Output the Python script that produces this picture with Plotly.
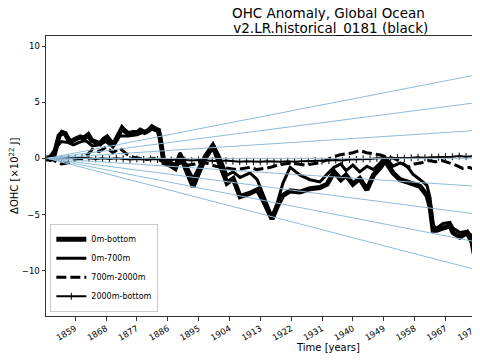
import plotly.graph_objects as go

# ---------------- data ----------------
yrs_total = [1850.8, 1851.7, 1852.8, 1853.5, 1854.3, 1855.2, 1856.1, 1857.0, 1857.8, 1859.0,
             1860.5, 1861.5, 1862.8, 1863.8, 1865.0, 1866.3, 1867.3, 1868.3, 1869.3, 1870.3,
             1871.3, 1872.7, 1873.6, 1874.5, 1875.8, 1877.1, 1878.0, 1879.3, 1880.5, 1881.4,
             1882.5, 1883.3, 1883.8, 1884.4, 1884.9, 1886.7, 1888.2, 1889.6, 1891.4, 1893.4,
             1895.4, 1896.9, 1899.2, 1901.3, 1903.3, 1905.1, 1907.1, 1910.0, 1912.1, 1913.8,
             1915.9, 1916.4, 1917.9, 1919.6, 1921.7, 1924.6, 1927.5, 1930.4, 1932.5, 1934.5,
             1936.5, 1938.0, 1940.0, 1942.0, 1944.1, 1946.0, 1948.0, 1949.4, 1951.7, 1953.8,
             1955.8, 1957.5, 1959.6, 1961.6, 1962.5, 1963.4, 1964.5, 1966.3, 1968.3, 1969.2,
             1971.2, 1973.3, 1974.7, 1975.6, 1977.1]
ohc_0_bottom = [0.0, -0.1, 0.2, 1.0, 2.0, 2.3, 2.2, 1.7, 1.5, 1.7,
                1.9, 1.8, 2.1, 1.6, 1.4, 1.3, 1.7, 1.9, 1.5, 1.3,
                1.9, 2.7, 2.4, 2.2, 2.3, 2.3, 2.5, 2.3, 2.5, 2.8,
                2.6, 2.5, 1.8, 0.2, -0.4, -0.6, -0.9, 0.3, -1.0, -2.5,
                -1.0, 0.0, 1.1, -0.5, -2.2, -1.8, -3.4, -3.1, -2.8, -3.7,
                -5.2, -5.4, -4.3, -3.3, -2.9, -3.0, -2.7, -2.6, -2.3, -1.2,
                -1.9, -1.5, -2.3, -1.8, -2.8, -1.5, -0.8, -0.2, -1.3, -1.9,
                -2.1, -2.3, -2.5, -3.3, -4.3, -6.4, -6.4, -6.2, -6.0, -6.6,
                -7.0, -6.6, -7.4, -8.8, -8.2]

yrs_700 = [1850.8, 1852.0, 1853.5, 1855.0, 1857.0, 1858.5, 1860.0, 1862.0, 1864.0, 1866.0,
           1868.0, 1870.0, 1872.0, 1874.5, 1877.0, 1879.0, 1881.4, 1883.0, 1884.0, 1884.7,
           1886.7, 1888.2, 1889.6, 1891.4, 1893.4, 1895.4, 1896.9, 1899.2, 1901.3, 1903.3,
           1905.1, 1907.1, 1910.0, 1912.1, 1913.8, 1915.9, 1916.4, 1917.9, 1919.6, 1921.7,
           1924.6, 1927.5, 1930.4, 1932.5, 1934.5, 1936.5, 1938.0, 1940.0, 1942.0, 1944.1,
           1946.0, 1948.0, 1949.4, 1951.7, 1953.8, 1955.8, 1957.5, 1959.6, 1961.6, 1962.5,
           1963.4, 1964.5, 1966.3, 1968.3, 1969.2, 1971.2, 1973.3, 1974.7, 1975.6, 1977.1]
ohc_0_700 = [0.0, 0.3, 1.0, 1.5, 1.4, 1.2, 1.4, 1.6, 1.1, 1.2,
             1.5, 1.0, 2.0, 2.0, 2.1, 2.3, 2.6, 2.4, 1.5, -0.2,
             -0.3, -0.6, 0.5, -0.6, -1.8, -0.6, 0.3, 1.3, 0.0, -1.5,
             -1.2, -1.7, -1.3, -1.9, -3.2, -4.8, -5.2, -4.0, -2.2, -0.8,
             -1.5, -1.9, -2.1, -1.4, -0.8, -0.5, -1.1, -0.6, -1.2, -0.7,
             -1.0, -0.4, 0.1, -0.7, -0.4, -0.7, -1.4, -1.9, -2.4, -3.5,
             -6.0, -6.2, -5.8, -5.7, -6.2, -6.6, -6.5, -6.9, -8.2, -7.6]

yrs_mid = [1850.8, 1853, 1855, 1857, 1859, 1861, 1862.5, 1864, 1866, 1868,
           1870, 1872, 1874, 1876, 1878, 1880, 1882, 1884, 1886, 1888,
           1890, 1892, 1894, 1896, 1898, 1900, 1902, 1904, 1906, 1908,
           1910, 1912, 1914, 1916, 1918, 1920, 1922, 1924, 1926, 1928,
           1930, 1932, 1934, 1936, 1938, 1940, 1942, 1944, 1946, 1948,
           1950, 1952, 1954, 1956, 1958, 1960, 1962, 1964, 1966, 1968,
           1970, 1972, 1974, 1976, 1977]
ohc_700_2000 = [0.0, -0.2, -0.5, -0.4, -0.1, 0.0, 0.3, 0.8, 0.6, 1.0,
                0.5, 0.9, 0.4, 0.1, 0.0, -0.1, 0.0, -0.2, -0.5, -0.6,
                -0.4, -0.6, -0.5, -0.3, -0.5, -0.7, -0.8, -0.9, -1.0, -0.9,
                -0.8, -1.0, -0.9, -0.8, -0.6, -0.5, -0.4, -0.5, -0.6, -0.5,
                -0.4, -0.2, 0.1, 0.3, 0.4, 0.5, 0.7, 0.5, 0.4, 0.3,
                0.1, 0.0, -0.3, -0.8, -0.5, -0.4, -0.2, -0.3, -0.2, -0.4,
                -0.6, -0.9, -0.8, -1.1, -1.0]

yrs_deep = [1850.8, 1853, 1855, 1857, 1859, 1861, 1863, 1865, 1867, 1869,
            1871, 1873, 1875, 1877, 1879, 1881, 1883, 1885, 1887, 1889,
            1891, 1893, 1895, 1897, 1899, 1901, 1903, 1905, 1907, 1909,
            1911, 1913, 1915, 1917, 1919, 1921, 1923, 1925, 1927, 1929,
            1931, 1933, 1935, 1937, 1939, 1941, 1943, 1945, 1947, 1949,
            1951, 1953, 1955, 1957, 1959, 1961, 1963, 1965, 1967, 1969,
            1971, 1973, 1975, 1977]
ohc_2000_bottom = [0.0, -0.05, 0.0, 0.05, 0.0, 0.05, 0.0, -0.05, 0.0, -0.05,
                   0.0, -0.05, -0.1, -0.05, -0.1, -0.05, -0.1, -0.1, -0.15, -0.1,
                   -0.15, -0.2, -0.15, -0.2, -0.2, -0.25, -0.2, -0.25, -0.3, -0.25,
                   -0.3, -0.3, -0.25, -0.3, -0.3, -0.25, -0.3, -0.25, -0.25, -0.2,
                   -0.25, -0.2, -0.15, -0.2, -0.1, -0.1, -0.05, -0.05, 0.0, 0.0,
                   0.0, 0.05, 0.0, 0.05, 0.1, 0.05, 0.1, 0.1, 0.15, 0.15,
                   0.2, 0.15, 0.2, 0.15]

trend_years = [1850.9, 1977.1]
trend_end_values = [7.5, 5.0, 2.5, 0.0, -2.5, -5.0, -7.5, -10.0]

x_tick_years = [1859, 1868, 1877, 1886, 1895, 1904, 1913, 1922, 1931, 1940, 1949, 1958, 1967, 1976]
y_tick_values = [-10, -5, 0, 5, 10]

title_lines = ["OHC Anomaly, Global Ocean", " v2.LR.historical_0181 (black)"]

# ---------------- figure ----------------
FONT = "DejaVu Sans"
fig = go.Figure()

fig.add_trace(go.Scatter(x=yrs_total, y=ohc_0_bottom, mode="lines", name="0m-bottom",
                         line=dict(color="black", width=5)))
fig.add_trace(go.Scatter(x=yrs_700, y=ohc_0_700, mode="lines", name="0m-700m",
                         line=dict(color="black", width=3)))
fig.add_trace(go.Scatter(x=yrs_mid, y=ohc_700_2000, mode="lines", name="700m-2000m",
                         line=dict(color="black", width=3, dash="10px,4px")))
fig.add_trace(go.Scatter(x=yrs_deep, y=ohc_2000_bottom, mode="lines+markers", name="2000m-bottom",
                         line=dict(color="black", width=2),
                         marker=dict(symbol="line-ns-open", size=5, color="black",
                                     line=dict(color="black", width=1))))

for v in trend_end_values:
    fig.add_trace(go.Scatter(x=trend_years, y=[0.0, v], mode="lines", showlegend=False,
                             hoverinfo="skip", line=dict(color="#8fbbd9", width=1)))

fig.update_layout(
    width=472, height=352,
    margin=dict(l=38, r=0, t=28, b=44),
    paper_bgcolor="white", plot_bgcolor="white",
    font=dict(family=FONT, color="black", size=8),
    showlegend=True,
    legend=dict(x=0.01, y=0.015, xanchor="left", yanchor="bottom",
                bgcolor="rgba(255,255,255,0.8)", bordercolor="#cccccc", borderwidth=1,
                font=dict(family=FONT, size=8), tracegroupgap=0, itemwidth=30),
    xaxis=dict(range=[1850.5, 1977.07], tickmode="array", tickvals=x_tick_years,
               ticktext=[str(t) for t in x_tick_years], tickangle=-30,
               ticks="outside", ticklen=3.5, tickwidth=1, tickcolor="#333",
               showline=True, linecolor="#333", linewidth=1, mirror=True,
               showgrid=False, zeroline=False, tickfont=dict(size=8.5)),
    yaxis=dict(range=[-14.03, 10.89], tickmode="array", tickvals=y_tick_values,
               ticks="outside", ticklen=3.5, tickwidth=1, tickcolor="#333",
               showline=True, linecolor="#333", linewidth=1, mirror=False,
               showgrid=False, zeroline=False, tickfont=dict(size=8.5)),
    annotations=[
        dict(text=title_lines[0], xref="paper", yref="paper", x=0.65, y=1.117,
             xanchor="center", yanchor="top", showarrow=False,
             font=dict(family=FONT, size=13.5)),
        dict(text=title_lines[1], xref="paper", yref="paper", x=0.65, y=1.029,
             xanchor="center", yanchor="middle", showarrow=False,
             font=dict(family=FONT, size=13.5)),
        dict(text="Time [years]", xref="paper", yref="paper", x=0.65, y=-0.114,
             xanchor="center", yanchor="middle", showarrow=False,
             font=dict(family=FONT, size=10)),
        dict(text="ΔOHC [×10<sup>22</sup> J]", xref="paper", yref="paper", x=-0.074, y=0.5,
             xanchor="center", yanchor="middle", textangle=-90, showarrow=False,
             font=dict(family=FONT, size=10)),
    ],
)

fig.write_html("out.html")
